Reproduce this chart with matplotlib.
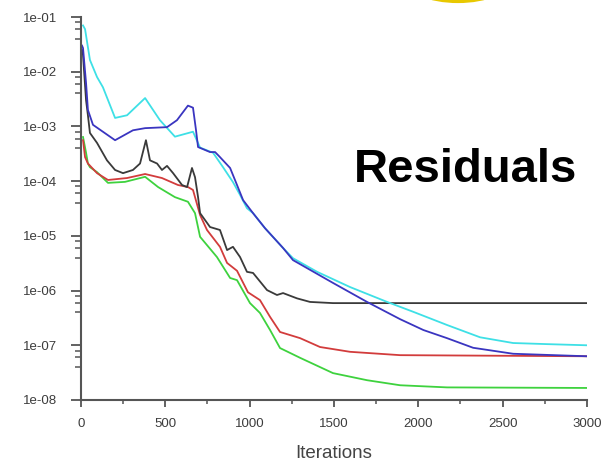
import matplotlib
matplotlib.use("Agg")
import matplotlib.pyplot as plt
from matplotlib.ticker import LogLocator, FixedLocator, NullFormatter, FuncFormatter
from matplotlib.patches import Ellipse

# ---- data ----
cyan_it = [12, 24, 53, 95, 130, 202, 273, 380, 468, 557, 664, 706, 783, 842, 901, 943, 984,
           1020, 1091, 1198, 1257, 1400, 1595, 1815, 1969, 2170, 2366, 2562, 2763, 3000]
cyan_val = [7.0e-2, 6.0e-2, 1.64e-2, 8.0e-3, 5.2e-3, 1.43e-3, 1.6e-3, 3.3e-3, 1.3e-3, 6.5e-4,
            8.0e-4, 4.1e-4, 3.3e-4, 1.8e-4, 9.6e-5, 5.6e-5, 3.2e-5,
            2.6e-5, 1.38e-5, 6.0e-6, 3.9e-6, 2.2e-6, 1.16e-6, 6.2e-7, 4.1e-7, 2.35e-7, 1.4e-7,
            1.1e-7, 1.05e-7, 1.0e-7]

blue_it = [6, 12, 30, 41, 71, 202, 308, 380, 510, 569, 634, 664, 682, 694, 765, 795, 824, 884,
           925, 961, 1020, 1091, 1198, 1257, 1494, 1696, 1892, 2030, 2170, 2325, 2562, 3000]
blue_val = [3.0e-2, 2.7e-2, 6.2e-3, 2.0e-3, 1.07e-3, 5.6e-4, 8.5e-4, 9.3e-4, 9.7e-4, 1.3e-3,
            2.4e-3, 2.2e-3, 8.5e-4, 4.2e-4, 3.4e-4, 3.4e-4, 2.75e-4, 1.74e-4,
            8.5e-5, 4.5e-5, 2.6e-5, 1.38e-5, 6.0e-6, 3.6e-6, 1.38e-6, 6.2e-7, 3.0e-7, 1.9e-7,
            1.35e-7, 9.0e-8, 7.0e-8, 6.3e-8]

black_it = [6, 12, 30, 41, 53, 95, 154, 202, 249, 308, 350, 385, 409, 451, 480, 510, 546, 599,
            629, 658, 676, 694, 706, 765, 824, 866, 901, 943, 984, 1020, 1103, 1162, 1198,
            1281, 1358, 1494, 3000]
black_val = [2.5e-2, 2.0e-2, 3.0e-3, 1.6e-3, 7.6e-4, 5.0e-4, 2.4e-4, 1.6e-4, 1.4e-4, 1.6e-4,
             2.1e-4, 5.6e-4, 2.4e-4, 2.1e-4, 1.6e-4, 1.9e-4, 1.4e-4, 8.5e-5,
             7.8e-5, 1.74e-4, 1.18e-4, 5.1e-5, 2.6e-5, 1.45e-5, 1.28e-5, 5.5e-6, 6.3e-6, 4.1e-6,
             2.2e-6, 2.1e-6, 1.02e-6, 8.3e-7, 9.0e-7, 7.2e-7, 6.2e-7, 5.9e-7, 5.9e-7]

red_it = [12, 24, 41, 95, 160, 273, 380, 480, 575, 634, 664, 706, 747, 824, 866, 925, 990,
          1061, 1121, 1180, 1299, 1417, 1595, 1892, 3000]
red_val = [5.6e-4, 2.75e-4, 2.1e-4, 1.4e-4, 1.05e-4, 1.14e-4, 1.35e-4, 1.14e-4, 8.5e-5, 7.8e-5,
           6.9e-5, 2.4e-5, 1.28e-5, 6.3e-6, 3.2e-6, 2.3e-6, 9.3e-7,
           6.7e-7, 3.3e-7, 1.75e-7, 1.35e-7, 9.3e-8, 7.6e-8, 6.6e-8, 6.3e-8]

green_it = [12, 30, 41, 53, 95, 160, 261, 380, 457, 557, 634, 676, 706, 806, 884, 925, 1002,
            1061, 1121, 1180, 1299, 1494, 1696, 1892, 2170, 3000]
green_val = [6.4e-4, 3.3e-4, 2.1e-4, 1.8e-4, 1.46e-4, 9.3e-5, 9.7e-5, 1.2e-4, 7.8e-5, 5.1e-5,
             4.2e-5, 2.6e-5, 9.6e-6, 4.1e-6, 1.7e-6, 1.55e-6, 5.9e-7,
             3.9e-7, 1.9e-7, 8.9e-8, 5.9e-8, 3.1e-8, 2.3e-8, 1.86e-8, 1.7e-8, 1.66e-8]

x_ticks = [0, 500, 1000, 1500, 2000, 2500, 3000]
y_ticks = [1e-8, 1e-7, 1e-6, 1e-5, 1e-4, 1e-3, 1e-2, 1e-1]
y_tick_labels = ["1e-08", "1e-07", "1e-06", "1e-05", "1e-04", "1e-03", "1e-02", "1e-01"]

plt.rcParams['font.family'] = ['Liberation Sans', 'DejaVu Sans']

fig = plt.figure(figsize=(6.07, 4.66), dpi=100)
ax = fig.add_axes([81 / 607, 1 - 400 / 466, (587 - 81) / 607, (400 - 17) / 466])

lw = 1.3
ax.plot(green_it, green_val, color="#3ed23e", lw=lw)
ax.plot(red_it, red_val, color="#d23c3c", lw=lw)
ax.plot(black_it, black_val, color="#3a3a3a", lw=lw)
ax.plot(cyan_it, cyan_val, color="#3ee0e6", lw=lw)
ax.plot(blue_it, blue_val, color="#3a35c0", lw=lw)

ax.set_yscale("log")
ax.set_xlim(0, 3000)
ax.set_ylim(1e-8, 1e-1)

ax.yaxis.set_major_locator(FixedLocator(y_ticks))
ax.yaxis.set_major_formatter(FuncFormatter(
    lambda v, p: y_tick_labels[y_ticks.index(min(y_ticks, key=lambda t: abs(t / v - 1)))]))
ax.yaxis.set_minor_locator(LogLocator(base=10, subs=(4.0, 6.0, 8.0)))
ax.yaxis.set_minor_formatter(NullFormatter())
ax.xaxis.set_major_locator(FixedLocator(x_ticks))
ax.xaxis.set_minor_locator(FixedLocator([250, 750, 1250, 1750, 2250, 2750]))

for s in ["top", "right"]:
    ax.spines[s].set_visible(False)
for s in ["left", "bottom"]:
    ax.spines[s].set_color("#555555")
    ax.spines[s].set_linewidth(1.5)

ax.tick_params(axis="both", which="major", length=7, width=1.3, color="#555555",
               labelsize=9.5, labelcolor="#3c3c3c", direction="out")
ax.tick_params(axis="both", which="minor", length=4, width=1.1, color="#555555", direction="out")
ax.tick_params(axis="y", which="major", pad=10)
ax.tick_params(axis="x", which="major", length=5, pad=8)
ax.tick_params(axis="x", which="minor", length=3)

ax.set_xlabel("Iterations", fontsize=13.5, color="#444444", labelpad=11)

fig.text(466 / 607, 1 - 170 / 466, "Residuals", fontsize=34, fontweight="bold",
         ha="center", va="center", color="black")

fig.patches.append(Ellipse((458 / 607, 1 + 22 / 466), 105 / 607, 46 / 466,
                           transform=fig.transFigure, fill=False, edgecolor="#e8c800",
                           linewidth=3, figure=fig))

fig.savefig("out.png", dpi=100)
